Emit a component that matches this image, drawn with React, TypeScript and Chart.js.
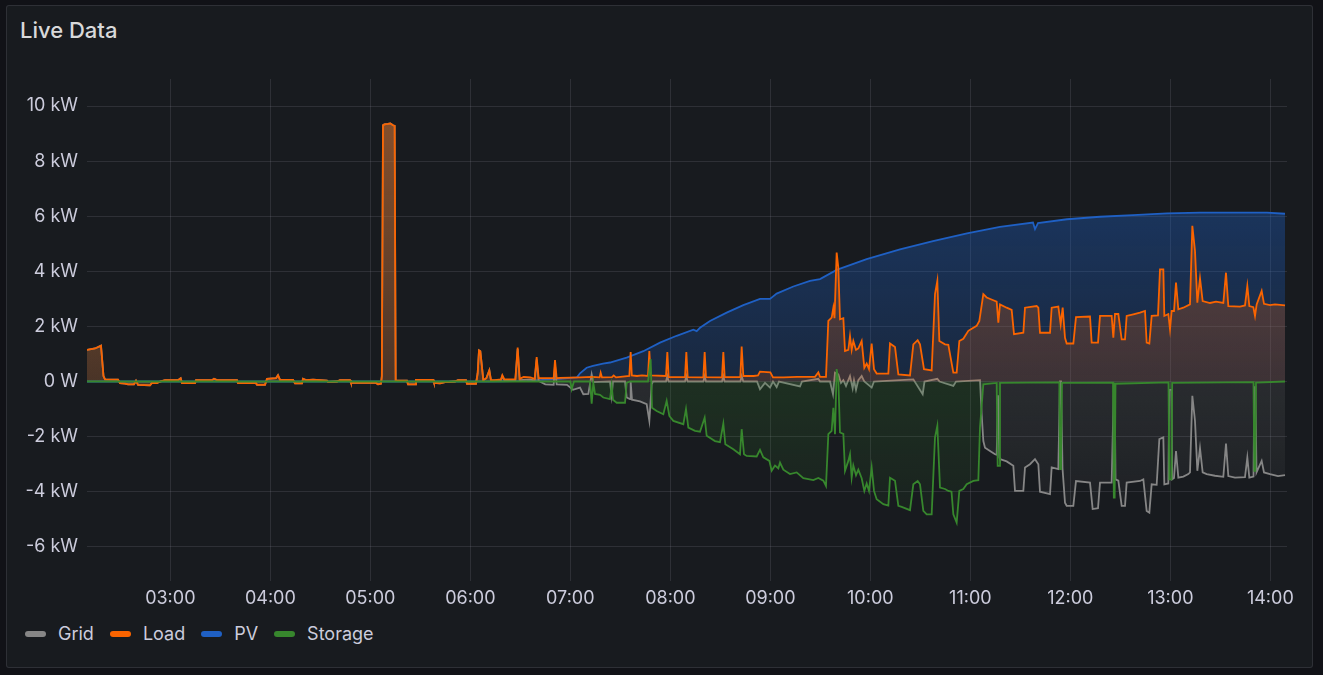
import React, { useEffect, useRef } from 'react';
import { Chart, registerables } from 'chart.js';

Chart.register(...registerables);

const TITLE = 'Live Data';
const seriesNames = ['Grid', 'Load', 'PV', 'Storage'];
const seriesColors = ['#868686', '#FA6400', '#1F60C4', '#37872D'];

// x values are minutes since midnight
const xTickMinutes = [180, 240, 300, 360, 420, 480, 540, 600, 660, 720, 780, 840];
const yTickValues = [-6, -4, -2, 0, 2, 4, 6, 8, 10];

// [minute, kW]
const loadSeries: [number, number][] = [
  [130, 1.15], [134.8, 1.2], [138.4, 1.3], [139.9, 0.2], [140.8, 0.08], [148.6, 0.07], [149.8, -0.06], [152.8, -0.08],
  [154.6, -0.1], [158.2, -0.1], [159.4, 0.03], [160.6, -0.12], [167.8, -0.14], [169, -0.05], [172, -0.06], [173.8, 0],
  [176.8, 0.05], [184.6, 0.05], [186.2, 0.12], [187, -0.06], [194.8, -0.06], [195.4, 0.05], [205, 0.05], [206.2, 0.1],
  [208, 0.05], [220, 0.05], [220.6, -0.06], [231.4, -0.06], [232, -0.12], [236.8, -0.12], [238, 0.1], [243.4, 0.12],
  [244.6, 0.23], [245.8, 0.06], [253.6, 0.06], [254.8, -0.07], [259, -0.07], [259.6, 0.1], [261.4, 0.05], [265.6, 0.07],
  [274, 0.03], [274.6, -0.01], [280, 0], [281.8, 0.05], [287.8, 0.05], [288.4, -0.05], [303.4, -0.05], [304.6, -0.1],
  [306.4, -0.08], [306.9, 0.2], [307.6, 9.3], [308.4, 9.33], [310.5, 9.35], [312, 9.37], [313.6, 9.3], [314.6, 9.28],
  [315.2, 0.03], [317.2, 0.03], [322, 0.03], [322.6, -0.1], [326.8, -0.1], [327.4, 0.06], [337.6, 0.06], [338.2, -0.05],
  [341.8, -0.07], [344.8, -0.02], [350.8, 0], [352.6, 0.05], [357.4, 0.05], [358, -0.08], [363.4, -0.08], [364.4, 0.3],
  [365.2, 1.13], [366, 1.1], [367.8, 0.05], [369.6, 0.12], [371.4, 0.41], [372.4, 0.05], [374.8, 0.05], [378.4, 0.08],
  [379.2, 0.23], [380.4, 0.08], [387, 0.08], [388.4, 1.23], [389.6, 0.1], [392, 0.17], [396, 0.15], [398.6, 0.1],
  [399.8, 0.89], [401, 0.12], [410, 0.12], [410.8, 0.78], [411.8, 0.12], [414, 0.13], [426, 0.15], [433, 0.17],
  [437.6, 0.15], [438.2, 0.32], [439, 0.15], [445, 0.16], [446, 0.22], [447.4, 0.15], [455.4, 0.2], [456.2, 1.07],
  [456.9, 0.22], [460, 0.2], [463, 0.22], [466.6, 0.2], [467.4, 1.11], [468.2, 0.22], [477.4, 0.2], [478.2, 1.07],
  [479, 0.16], [488.8, 0.16], [489.6, 1.07], [490.4, 0.16], [499.8, 0.15], [500.6, 1.07], [501.4, 0.16], [511, 0.15],
  [511.8, 1.07], [512.6, 0.16], [522, 0.16], [522.8, 1.27], [523.8, 0.2], [530, 0.2], [532.6, 0.22], [533.8, 0.36],
  [540, 0.33], [541.6, 0.15], [548, 0.15], [556, 0.17], [566.8, 0.17], [568.8, 0.33], [569.8, 0.17], [573.4, 0.17],
  [574.8, 2.2], [576.8, 2.32], [577.8, 2.68], [578.5, 2.3], [579.8, 4.68], [580.8, 4.13], [581.8, 2.26], [583.8, 2.3],
  [584.8, 1.11], [586.8, 1.15], [587.8, 1.65], [588.8, 1.15], [589.8, 1.47], [591.4, 1.15], [592.8, 1.2], [594.8, 1.47],
  [596.4, 0.5], [597.8, 0.65], [599.2, 0.45], [600.8, 1.38], [602.2, 0.45], [603.8, 0.29], [610.8, 0.29], [611.8, 1.38],
  [614.8, 1.25], [616.8, 0.26], [623.8, 0.22], [625.8, 1.35], [628.4, 1.5], [629.8, 1.35], [632.2, 0.45], [636.8, 0.4],
  [638.8, 3.17], [640.2, 3.65], [641.4, 1.47], [644.8, 1.35], [646.8, 1.33], [649.8, 0.32], [651.8, 0.32], [653.4, 1.47],
  [655.8, 1.55], [658.8, 1.84], [663.8, 2.02], [665.4, 2.2], [667.8, 3.17], [669.8, 3.05], [673.8, 2.95], [675.8, 2.9],
  [676.8, 2.14], [677.8, 2.8], [681.8, 2.68], [684.8, 2.6], [686.2, 1.72], [691.8, 1.77], [692.8, 2.68], [699.8, 2.74],
  [700.8, 2.68], [701.8, 1.77], [707.8, 1.77], [708.8, 2.68], [712.8, 2.72], [714.2, 2.08], [715.4, 2.68], [716.8, 1.59],
  [717.8, 1.38], [721.8, 1.38], [723.4, 2.34], [731.8, 2.36], [732.8, 1.41], [736.6, 1.41], [737.8, 2.38], [744.8, 2.38],
  [745.8, 1.59], [746.8, 2.45], [748.8, 2.45], [750.8, 1.53], [752.8, 1.53], [753.8, 2.38], [757.8, 2.44], [761.8, 2.5],
  [764.8, 2.56], [765.8, 1.41], [767.4, 1.38], [768.8, 2.38], [772.6, 2.4], [773.8, 4.07], [775.8, 4.07], [776.4, 2.38],
  [778.8, 2.45], [779.8, 1.9], [780.8, 2.56], [782.2, 2.56], [783.4, 3.59], [784.8, 2.62], [787.8, 2.68], [791.8, 2.8],
  [793.2, 5.65], [794.8, 4.74], [796.2, 2.86], [797.8, 3.75], [799.4, 2.92], [803.8, 2.85], [807.4, 2.9], [811.8, 2.85],
  [813.4, 3.95], [814.8, 2.74], [821.8, 2.72], [824.8, 2.76], [826.2, 3.47], [827.4, 2.74], [829.8, 2.7], [830.8, 2.38],
  [831.8, 2.8], [834.8, 3.29], [836.2, 2.82], [839.8, 2.77], [842.8, 2.8], [848.8, 2.76],
];

const gridSeries: [number, number][] = [
  [130, 1.15], [134.8, 1.2], [138.4, 1.3], [139.9, 0.2], [140.8, 0.08], [148.6, 0.07], [149.8, -0.06], [152.8, -0.08],
  [154.6, -0.1], [158.2, -0.1], [159.4, 0.03], [160.6, -0.12], [167.8, -0.14], [169, -0.05], [172, -0.06], [173.8, 0],
  [176.8, 0.05], [184.6, 0.05], [186.2, 0.12], [187, -0.06], [194.8, -0.06], [195.4, 0.05], [205, 0.05], [206.2, 0.1],
  [208, 0.05], [220, 0.05], [220.6, -0.06], [231.4, -0.06], [232, -0.12], [236.8, -0.12], [238, 0.1], [243.4, 0.12],
  [244.6, 0.23], [245.8, 0.06], [253.6, 0.06], [254.8, -0.07], [259, -0.07], [259.6, 0.1], [261.4, 0.05], [265.6, 0.07],
  [274, 0.03], [274.6, -0.01], [280, 0], [281.8, 0.05], [287.8, 0.05], [288.4, -0.05], [303.4, -0.05], [304.6, -0.1],
  [306.4, -0.08], [306.9, 0.2], [307.6, 9.3], [308.4, 9.33], [310.5, 9.35], [312, 9.37], [313.6, 9.3], [314.6, 9.28],
  [315.2, 0.03], [317.2, 0.03], [322, 0.03], [322.6, -0.1], [326.8, -0.1], [327.4, 0.06], [337.6, 0.06], [338.2, -0.05],
  [341.8, -0.07], [344.8, -0.02], [350.8, 0], [352.6, 0.05], [357.4, 0.05], [358, -0.08], [363.4, -0.08], [364.4, 0.3],
  [365.2, 1.13], [366, 1.1], [367.8, 0.05], [369.6, 0.12], [371.4, 0.4], [372.4, 0.03], [378.4, 0.05], [379.2, 0.2],
  [380.4, 0.05], [387, 0.03], [388.4, 1.18], [389.6, 0.05], [396, 0.08], [398.6, 0.03], [399.8, 0.8], [401, 0.02],
  [405, -0.1], [410, -0.12], [410.8, 0.6], [411.8, -0.1], [418, -0.12], [421.6, -0.3], [425.8, -0.22], [427.8, -0.46],
  [430.8, -0.45], [432.8, 0.26], [433.8, -0.02], [443.8, 0], [444.8, -0.52], [445.6, 0], [452.8, 0], [453.8, -0.58],
  [455.8, -0.64], [456.2, 0], [457, -0.66], [461.8, -0.72], [465.8, -0.82], [467.4, -1.43], [468.8, -0.1], [469.6, 0],
  [477.4, 0], [478.2, 0.2], [479, 0], [488.8, 0], [489.6, 0.2], [490.4, 0], [499.8, 0], [500.6, 0.2], [501.4, 0],
  [511, 0], [511.8, 0.2], [512.6, 0], [522, 0], [522.8, 0.2], [523.8, 0], [532, 0], [533.8, -0.28], [536.8, -0.05],
  [539.8, -0.22], [541.6, 0], [543.8, -0.2], [545.2, 0], [557.8, -0.18], [559, 0], [568.8, 0.1], [569.8, 0],
  [575.8, 0], [577.6, -0.46], [578.4, 0.05], [578.8, 0.32], [580.8, 0.26], [582.4, -0.05], [583.8, 0.05], [585.4, -0.16],
  [587.8, 0.2], [589.4, -0.25], [590.2, 0.05], [591.4, -0.3], [592.8, 0.05], [594.8, 0.2], [596.4, 0], [600.8, -0.22],
  [602.2, 0], [617.8, 0.05], [625.8, 0.08], [631.4, -0.46], [632.5, 0], [640.2, 0.1], [641.5, 0], [649.8, -0.16],
  [651.4, 0], [665.8, 0.05], [666.8, -1.19], [667.8, -2.16], [668.8, -2.4], [671.8, -2.52], [674.8, -2.64], [675.8, -2.66],
  [676.6, -0.5], [677.4, -2.75], [677.8, -2.82], [681.8, -2.9], [685.8, -3.06], [686.8, -3.97], [691.8, -3.97], [692.8, -3.12],
  [695.8, -3.0], [698.8, -2.82], [700.8, -3.0], [701.8, -4.0], [707.8, -4.09], [708.8, -3.12], [712.8, -3.18], [713.8, 0],
  [714.4, 0], [715.3, -3.15], [716.8, -4.4], [717.8, -4.51], [721.8, -4.51], [723.4, -3.61], [731.8, -3.67], [733.4, -4.63],
  [736.6, -4.6], [737.8, -3.67], [744.8, -3.67], [746.1, -0.2], [746.6, -0.2], [747.1, -3.55], [748.8, -3.6], [750.8, -4.51],
  [752.8, -4.51], [753.8, -3.67], [761.8, -3.61], [763.8, -3.55], [765.8, -4.7], [767.4, -4.76], [768.8, -3.73], [771.8, -3.75],
  [773.4, -2.09], [775.8, -2.03], [776.4, -3.73], [778.8, -3.7], [779.4, -0.3], [780.7, -0.3], [781.1, -3.55], [782.2, -3.5],
  [783.4, -2.52], [784.8, -3.49], [787.8, -3.45], [790.8, -3.36], [791.8, -3.3], [793.2, -0.52], [794.8, -1.43], [796.2, -3.24],
  [797.8, -2.42], [799.4, -3.3], [801.8, -3.36], [806.8, -3.42], [811.8, -3.46], [813.4, -2.25], [814.8, -3.43], [818.8, -3.49],
  [824.8, -3.47], [826.2, -2.76], [827.4, -3.49], [829.9, -3.45], [830.4, -0.2], [831, -0.2], [831.7, -3.3], [834.8, -2.88],
  [836.2, -3.3], [839.8, -3.36], [844.6, -3.43], [848.8, -3.4],
];

const pvSeries: [number, number][] = [
  [130, 0], [370, 0], [379.6, 0.01], [394, 0.02], [403.6, 0.06], [413.8, 0.1], [421.6, 0.14], [424, 0.15],
  [425.8, 0.3], [429.8, 0.5], [433.6, 0.57], [439.6, 0.65], [443.8, 0.69], [453.8, 0.87], [463.8, 1.1], [473.8, 1.41],
  [483.8, 1.66], [493.8, 1.88], [495.8, 1.83], [497.8, 1.95], [503.8, 2.2], [513.8, 2.5], [523.8, 2.77], [533.8, 3.0],
  [539.8, 3.0], [543.8, 3.19], [553.8, 3.45], [563.8, 3.65], [569.8, 3.72], [579.8, 4.05], [597.8, 4.44], [617.8, 4.8],
  [637.6, 5.1], [658, 5.38], [677.8, 5.61], [697.6, 5.77], [698.8, 5.53], [700.6, 5.75], [718, 5.89], [737.8, 5.98],
  [757.6, 6.04], [778, 6.1], [797.8, 6.13], [838, 6.13], [848.8, 6.09],
];

const storageSeries: [number, number][] = [
  [130, 0], [420, 0], [420.8, -0.28], [422.2, 0], [431.8, 0], [432.8, -0.8], [433.8, -0.05], [434.8, -0.45],
  [437.8, -0.48], [439.8, -0.58], [443.8, -0.64], [444.8, -0.15], [445.6, -0.66], [447.8, -0.77], [452.8, -0.77], [453.8, -0.05],
  [455.8, 0], [466.6, 0], [468.2, 0.81], [469, -0.95], [471.8, -1.07], [475.8, -1.19], [477.8, -0.7], [479.4, -1.25],
  [481.8, -1.43], [487.8, -1.55], [489.4, -1.0], [490.8, -1.67], [494.8, -1.79], [497.8, -1.82], [500.6, -1.31], [501.8, -1.97],
  [506.8, -2.16], [509.8, -2.2], [511.8, -1.53], [513, -2.28], [517.8, -2.46], [521.8, -2.64], [522.8, -1.73], [524.2, -2.64],
  [525.8, -2.7], [531.8, -2.72], [533.8, -2.48], [535.8, -2.75], [539.4, -2.88], [540.8, -3.24], [542.8, -3.05], [544.8, -3.15],
  [545.8, -2.94], [547.8, -3.2], [551.8, -3.36], [555.8, -3.3], [559.8, -3.51], [565.8, -3.58], [568.8, -3.5], [571.8, -3.6],
  [573.4, -3.79], [574.8, -1.91], [576.8, -1.79], [577.8, -0.95], [578.8, -1.91], [579.8, 0.45], [580.8, 0.02], [581.8, -1.85],
  [583.8, -1.9], [584.8, -3.24], [586.8, -2.88], [587.8, -2.64], [588.8, -3.49], [589.8, -3.05], [591.4, -3.4], [592.8, -3.2],
  [594.8, -3.51], [596.4, -3.97], [597.8, -3.7], [599.2, -3.97], [600.8, -3.12], [602.2, -3.97], [603.8, -4.27], [607.8, -4.45],
  [610.8, -4.5], [611.8, -3.49], [614.8, -3.6], [616.8, -4.51], [618.8, -4.55], [623.8, -4.67], [625.8, -3.73], [628.4, -3.61],
  [629.8, -3.73], [631.8, -4.69], [633.8, -4.82], [636.8, -4.82], [638.8, -2.03], [640.2, -1.61], [641.8, -3.85], [644.8, -3.9],
  [646.8, -3.97], [648.7, -4.0], [649.8, -4.82], [651.8, -5.12], [653.4, -3.97], [655.8, -3.9], [657.8, -3.73], [661.8, -3.61],
  [664.8, -3.58], [665.8, -1.67], [667.8, -0.1], [675.8, -0.05], [676.4, -3.06], [677.2, -3.06], [677.8, -0.05], [713.4, -0.03],
  [713.8, -3.18], [714.4, -3.18], [715, -0.05], [745.6, -0.04], [746.1, -4.21], [746.6, -4.21], [747.1, -0.08], [778.9, -0.03],
  [779.4, -3.55], [780.7, -3.55], [781.1, -0.05], [829.9, -0.02], [830.4, -3.24], [831, -3.24], [831.4, -0.04], [848.8, 0],
];

const TEXT_COLOR = '#ccccdc';
const GRID_COLOR = 'rgba(204, 204, 220, 0.12)';
const FONT = 'Inter, "DejaVu Sans", sans-serif';

function rgba(hex: string, a: number) {
  const n = parseInt(hex.slice(1), 16);
  return `rgba(${(n >> 16) & 255}, ${(n >> 8) & 255}, ${n & 255}, ${a})`;
}

function fmtTime(v: number) {
  const h = Math.floor(v / 60);
  const m = Math.round(v - h * 60);
  return `${String(h).padStart(2, '0')}:${String(m).padStart(2, '0')}`;
}

export default function App() {
  const canvasRef = useRef<HTMLCanvasElement>(null);

  useEffect(() => {
    const toPts = (s: [number, number][]) => s.map(([x, y]) => ({ x, y }));
    const gradient = (hex: string, op: number) => (ctx: any) => {
      const chart = ctx.chart;
      const area = chart.chartArea;
      if (!area) return rgba(hex, op / 2);
      const g = chart.ctx.createLinearGradient(0, area.top, 0, area.bottom);
      g.addColorStop(0, rgba(hex, op));
      g.addColorStop(1, rgba(hex, 0));
      return g;
    };
    const ds = (idx: number, data: [number, number][], order: number, op: number) => ({
      label: seriesNames[idx],
      data: toPts(data),
      borderColor: seriesColors[idx],
      backgroundColor: gradient(seriesColors[idx], op),
      fill: 'origin',
      borderWidth: 1.8,
      pointRadius: 0,
      pointHoverRadius: 0,
      tension: 0,
      order,
    });

    const chart = new Chart(canvasRef.current as HTMLCanvasElement, {
      type: 'line',
      data: {
        datasets: [
          ds(3, storageSeries, 1, 0.5),
          ds(1, loadSeries, 2, 0.4),
          ds(0, gridSeries, 3, 0.4),
          ds(2, pvSeries, 4, 0.5),
        ] as any,
      },
      options: {
        animation: false,
        responsive: false,
        events: [],
        layout: { padding: { top: 8, right: 13, left: 0, bottom: 0 } },
        plugins: { legend: { display: false }, tooltip: { enabled: false } },
        scales: {
          x: {
            type: 'linear',
            min: 130,
            max: 850,
            border: { display: false },
            grid: { color: GRID_COLOR, drawTicks: false },
            ticks: {
              color: TEXT_COLOR,
              font: { family: FONT, size: 18 },
              padding: 7,
              maxRotation: 0,
              autoSkip: false,
              callback: (v: any) => fmtTime(Number(v)),
            },
            afterBuildTicks: (s: any) => {
              s.ticks = xTickMinutes.map((v) => ({ value: v }));
            },
            afterFit: (s: any) => {
              s.height = 35;
              s.paddingLeft = 0;
              s.paddingRight = 0;
            },
          },
          y: {
            type: 'linear',
            min: -7.24,
            max: 10.98,
            border: { display: false },
            grid: { color: GRID_COLOR, drawTicks: false },
            ticks: {
              color: TEXT_COLOR,
              font: { family: FONT, size: 18 },
              padding: 9,
              autoSkip: false,
              callback: (v: any) => (Number(v) === 0 ? '0 W' : `${v} kW`),
            },
            afterBuildTicks: (s: any) => {
              s.ticks = yTickValues.map((v) => ({ value: v }));
            },
            afterFit: (s: any) => {
              s.width = 67;
              s.paddingTop = 0;
              s.paddingBottom = 0;
            },
          },
        },
      } as any,
    });
    return () => chart.destroy();
  }, []);

  return (
    <div style={{ position: 'fixed', inset: 0, background: '#111217', fontFamily: FONT, overflow: 'hidden' }}>
      <div
        style={{
          position: 'absolute',
          left: 6,
          top: 5,
          width: 1305,
          height: 661,
          background: '#181b1f',
          border: '1px solid rgba(204, 204, 220, 0.12)',
          borderRadius: 3,
        }}
      />
      <div
        style={{
          position: 'absolute',
          left: 20,
          top: 19,
          fontSize: 22,
          lineHeight: '22px',
          fontWeight: 500,
          color: '#d8d9da',
          whiteSpace: 'nowrap',
        }}
      >
        {TITLE}
      </div>
      <canvas
        ref={canvasRef}
        width={1280}
        height={545}
        style={{ position: 'absolute', left: 20, top: 71, width: 1280, height: 545 }}
      />
      <div
        style={{
          position: 'absolute',
          left: 25,
          top: 624,
          height: 19,
          display: 'flex',
          alignItems: 'center',
          fontSize: 18,
          color: TEXT_COLOR,
          whiteSpace: 'nowrap',
        }}
      >
        {seriesNames.map((name, i) => (
          <div key={name} style={{ display: 'flex', alignItems: 'center', marginRight: 16 }}>
            <span
              style={{
                display: 'inline-block',
                width: 21,
                height: 6,
                borderRadius: 3,
                background: seriesColors[i],
                marginRight: 12,
              }}
            />
            <span>{name}</span>
          </div>
        ))}
      </div>
    </div>
  );
}
